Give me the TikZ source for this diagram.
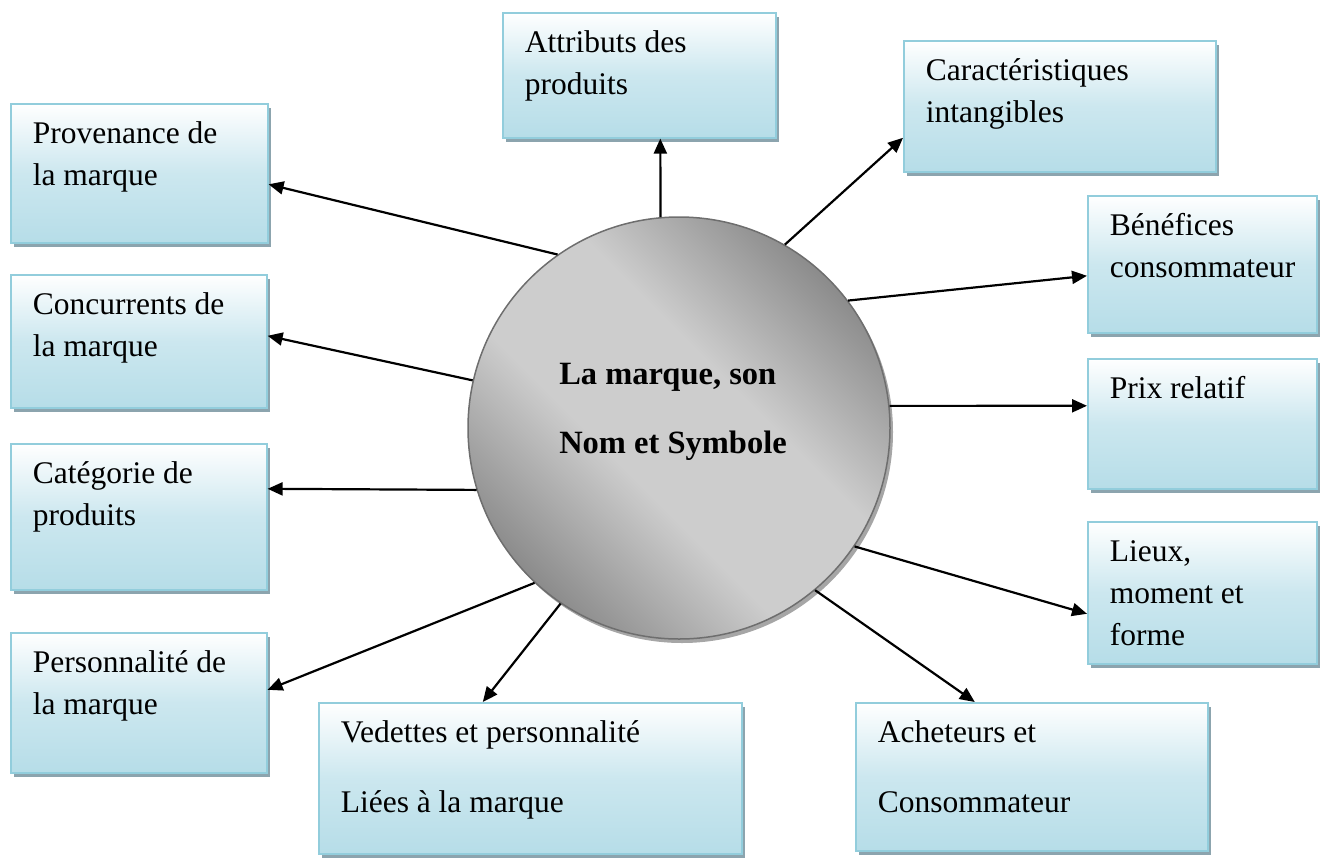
\documentclass[tikz,border=0pt]{standalone}
\usepackage{fontspec}
\setmainfont{Liberation Serif}
\usepackage{tikz}
\usetikzlibrary{arrows.meta, shadows}
\usepackage{xcolor}

\definecolor{boxline}{RGB}{146,205,220}
\definecolor{boxblue}{RGB}{182,221,232}
\definecolor{boxshadow}{RGB}{140,164,174}
\definecolor{circline}{RGB}{110,110,110}
\definecolor{circdark}{RGB}{128,128,128}
\definecolor{circlight}{RGB}{205,205,205}

% grey band across the circle
\pgfdeclareverticalshading{brandshade}{100bp}{color(0bp)=(circdark); color(22bp)=(circdark);
  color(42bp)=(circlight); color(58bp)=(circlight); color(78bp)=(circdark); color(100bp)=(circdark)}

% text of a box: top aligned, fixed height
\newcommand{\boxtxt}[3]{\hspace*{22pt}\parbox[c][#2][t]{\dimexpr#1-22pt\relax}{\raggedright\rule{0pt}{40pt}#3}}

\tikzset{
  infobox/.style={anchor=north west, inner sep=0pt, draw=boxline, line width=1.6pt,
    top color=white, bottom color=boxblue, middle color=boxblue!70,
    drop shadow={shadow xshift=3pt, shadow yshift=-4pt, fill=boxshadow, opacity=1},
    font=\fontsize{31.5}{42}\selectfont},
  brandcircle/.style={circle, minimum size=422pt, inner sep=0pt, draw=circline, line width=1.5pt,
    shading=brandshade, shading angle=-45,
    drop shadow={shadow xshift=3pt, shadow yshift=-4pt, fill=black!35, opacity=1},
    font=\fontsize{32.5}{42}\selectfont\bfseries, align=left},
  linkarrow/.style={-{Triangle[length=15pt, width=13pt]}, line width=2.2pt, black}
}

\begin{document}
\begin{tikzpicture}[x=1pt, y=-1pt]
  \useasboundingbox (0,0) rectangle (1321,857);

  % centre
  \node[brandcircle] (brand) at (679,428)
    {La marque, son\\[27pt]Nom et Symbole\hspace*{12pt}\rule[-39pt]{0pt}{0pt}};

  % boxes: name / left / top / width / height / text
  \foreach \nm/\x/\y/\w/\h/\txt in {
      attr/502/12/273/125/{Attributs des\\produits},
      carac/903/40/312/131/{Caractéristiques\\intangibles},
      prov/10/103/257/139/{Provenance de\\la marque},
      benef/1087/195/229/137/{Bénéfices\\consommateur},
      conc/10/274/256/133/{Concurrents de\\la marque},
      prix/1087/358/229/130/{Prix relatif},
      cat/10/443/256/146/{Catégorie de\\produits},
      lieux/1087/521/229/142/{Lieux,\\moment et\\forme},
      perso/10/632/256/140/{Personnalité de\\la marque},
      vedet/318/702/423/151/{Vedettes et personnalité\\[28pt]Liées à la marque},
      achet/855/702/352/148/{Acheteurs et\\[28pt]Consommateur}} {
      \node[infobox] (\nm) at (\x,\y) {\boxtxt{\w pt}{\h pt}{\txt}};
    }

  % arrows from the circle: angle / box / side / shift
  \foreach \ang/\nm/\side/\dx/\dy in {
      95/attr/south/21/0, 60/carac/west/0/31.5, 125/prov/east/0/11,
      37/benef/west/0/11.5, 167/conc/east/0/-5.5, 6/prix/west/0/-18,
      197/cat/east/0/-28, 326/lieux/west/0/21, 227.5/perso/east/0/-13,
      236.6/vedet/north/-47.5/0, 310/achet/north/-57/0} {
      \draw[linkarrow] (brand.\ang) -- ([shift={(\dx,\dy)}]\nm.\side);
    }
\end{tikzpicture}
\end{document}
